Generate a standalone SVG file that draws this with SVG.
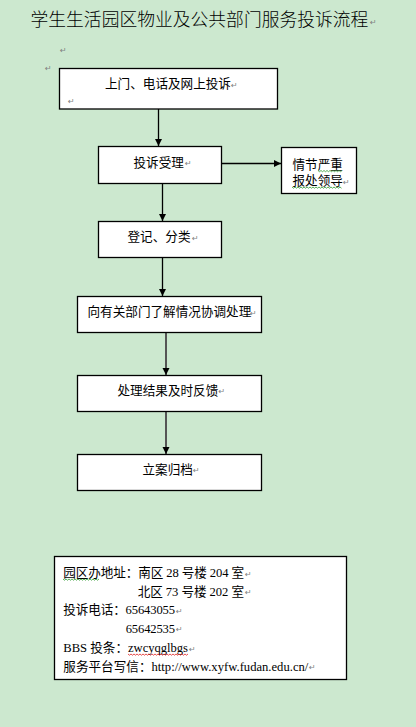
<svg xmlns="http://www.w3.org/2000/svg" width="416" height="727" viewBox="0 0 416 727">
<style>
.box{fill:#ffffff;stroke:#000000;stroke-width:1.3}
.t{font-family:"Noto Sans CJK SC","Noto Sans",sans-serif;font-size:12.6px;fill:#000000}
.info{font-family:"Liberation Serif","Noto Sans CJK SC",serif;font-size:12.6px;fill:#000000}
.rm{font-family:"DejaVu Sans",sans-serif;font-size:8px;fill:#808080}
.c{stroke:#000000;stroke-width:1.3;fill:none}
.c2{stroke:#555555;stroke-width:2;fill:none}
.wg{stroke:#2e9a2e;stroke-width:0.8;fill:none}
.wr{stroke:#e02020;stroke-width:0.8;fill:none}
</style>
<defs>
<marker id="ah" markerWidth="8" markerHeight="8" refX="7" refY="4" orient="auto" markerUnits="userSpaceOnUse">
<path d="M0,0.5 L7,4 L0,7.5 Z" fill="#000000"/>
</marker>
</defs>
<rect x="0" y="0" width="416" height="727" fill="#cce8cf"/>
<g id="title">
<text x="30.5" y="26" style="font-family:'Noto Sans CJK SC',sans-serif;font-size:17.8px;font-weight:300;fill:#000000">学生生活园区物业及公共部门服务投诉流程</text>
<text x="370" y="25" class="rm">↵</text>
<text x="60" y="53" class="rm">↵</text>
<text x="45" y="71" class="rm">↵</text>
</g>
<g id="connectors">
<line class="c" x1="158.5" y1="109" x2="158.5" y2="146" marker-end="url(#ah)"/>
<line class="c" x1="222" y1="163.5" x2="281" y2="163.5" marker-end="url(#ah)"/>
<line class="c" x1="162.5" y1="183" x2="162.5" y2="221" marker-end="url(#ah)"/>
<line class="c" x1="162.5" y1="257" x2="162.5" y2="296" marker-end="url(#ah)"/>
<line class="c2" x1="166" y1="332" x2="166" y2="375" marker-end="url(#ah)"/>
<line class="c2" x1="166" y1="412" x2="166" y2="454" marker-end="url(#ah)"/>
</g>
<g id="n1">
<rect class="box" x="59.5" y="68.5" width="218" height="40.5"/>
<text class="t" x="105" y="88">上门、电话及网上投诉</text>
<text class="rm" x="231" y="88">↵</text>
<text class="rm" x="68" y="104">↵</text>
</g>
<g id="n2">
<rect class="box" x="98.5" y="146.5" width="123" height="37"/>
<text class="t" x="133.5" y="166.5">投诉受理</text>
<text class="rm" x="185" y="166">↵</text>
</g>
<g id="n3">
<rect class="box" x="281.5" y="147.5" width="75" height="46"/>
<text class="t" x="292.5" y="169">情节严重</text>
<text class="t" x="292.5" y="185">报处领导</text>
<text class="rm" x="343" y="185">↵</text>
<path class="wg" d="M318,170.5 l1.5,1.2 l1.5,-1.2 l1.5,1.2 l1.5,-1.2 l1.5,1.2 l1.5,-1.2 l1.5,1.2 l1.5,-1.2 l1.5,1.2 l1.5,-1.2 l1.5,1.2 l1.5,-1.2 l1.5,1.2 l1.5,-1.2 l1.5,1.2 l1.5,-1.2"/>
<path class="wg" d="M292,187 l1.5,1.2 l1.5,-1.2 l1.5,1.2 l1.5,-1.2 l1.5,1.2 l1.5,-1.2 l1.5,1.2 l1.5,-1.2 l1.5,1.2 l1.5,-1.2 l1.5,1.2 l1.5,-1.2 l1.5,1.2 l1.5,-1.2 l1.5,1.2 l1.5,-1.2 l1.5,1.2 l1.5,-1.2 l1.5,1.2 l1.5,-1.2 l1.5,1.2 l1.5,-1.2 l1.5,1.2 l1.5,-1.2 l1.5,1.2 l1.5,-1.2 l1.5,1.2 l1.5,-1.2 l1.5,1.2 l1.5,-1.2 l1.5,1.2 l1.5,-1.2 l1.5,1.2"/>
</g>
<g id="n4">
<rect class="box" x="98.5" y="221.5" width="123" height="36"/>
<text class="t" x="127.5" y="241">登记、分类</text>
<text class="rm" x="192" y="241">↵</text>
</g>
<g id="n5">
<rect class="box" x="77.5" y="296.5" width="184" height="36"/>
<text class="t" x="87.5" y="316">向有关部门了解情况协调处理</text>
<text class="rm" x="250" y="316">↵</text>
</g>
<g id="n6">
<rect class="box" x="77.5" y="375.5" width="184" height="36"/>
<text class="t" x="117.5" y="394.5">处理结果及时反馈</text>
<text class="rm" x="218.5" y="394">↵</text>
</g>
<g id="n7">
<rect class="box" x="77.5" y="454.5" width="184" height="36"/>
<text class="t" x="142.5" y="473.5">立案归档</text>
<text class="rm" x="193" y="473">↵</text>
</g>
<g id="info">
<rect class="box" x="54.5" y="556.5" width="292" height="123"/>
<text class="info" x="63.3" y="577" textLength="180.7" lengthAdjust="spacing">园区办地址：南区 28 号楼 204 室</text>
<text class="rm" x="245" y="577">↵</text>
<text class="info" x="137.7" y="595.5" textLength="106.3" lengthAdjust="spacing">北区 73 号楼 202 室</text>
<text class="rm" x="245" y="595">↵</text>
<text class="info" x="63.3" y="614" textLength="111.7" lengthAdjust="spacing">投诉电话：65643055</text>
<text class="rm" x="176" y="614">↵</text>
<text class="info" x="125.7" y="632.5" textLength="49.3" lengthAdjust="spacing">65642535</text>
<text class="rm" x="176" y="632">↵</text>
<text class="info" x="63.3" y="652" textLength="124.7" lengthAdjust="spacing">BBS 投条：zwcyqglbgs</text>
<text class="rm" x="189" y="652">↵</text>
<text class="info" x="63.3" y="670.5" textLength="245" lengthAdjust="spacing">服务平台写信：http://www.xyfw.fudan.edu.cn/</text>
<text class="rm" x="309" y="670">↵</text>
<path class="wg" d="M63,579 l1.5,1.2 l1.5,-1.2 l1.5,1.2 l1.5,-1.2 l1.5,1.2 l1.5,-1.2 l1.5,1.2 l1.5,-1.2 l1.5,1.2 l1.5,-1.2 l1.5,1.2 l1.5,-1.2 l1.5,1.2 l1.5,-1.2 l1.5,1.2 l1.5,-1.2 l1.5,1.2 l1.5,-1.2 l1.5,1.2 l1.5,-1.2 l1.5,1.2 l1.5,-1.2 l1.5,1.2 l1.5,-1.2"/>
<path class="wr" d="M128,654 l1.5,1.2 l1.5,-1.2 l1.5,1.2 l1.5,-1.2 l1.5,1.2 l1.5,-1.2 l1.5,1.2 l1.5,-1.2 l1.5,1.2 l1.5,-1.2 l1.5,1.2 l1.5,-1.2 l1.5,1.2 l1.5,-1.2 l1.5,1.2 l1.5,-1.2 l1.5,1.2 l1.5,-1.2 l1.5,1.2 l1.5,-1.2 l1.5,1.2 l1.5,-1.2 l1.5,1.2 l1.5,-1.2 l1.5,1.2 l1.5,-1.2 l1.5,1.2 l1.5,-1.2 l1.5,1.2 l1.5,-1.2 l1.5,1.2 l1.5,-1.2 l1.5,1.2 l1.5,-1.2 l1.5,1.2 l1.5,-1.2 l1.5,1.2 l1.5,-1.2 l1.5,1.2 l1.5,-1.2"/>
</g>
</svg>
